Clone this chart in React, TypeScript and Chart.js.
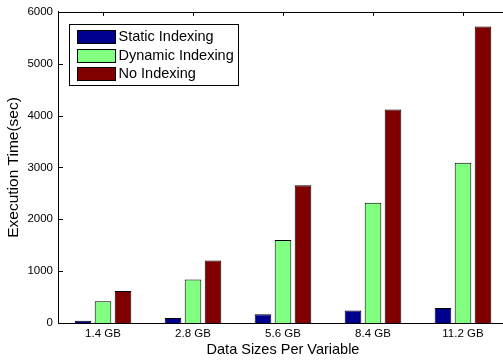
import React, { useEffect, useRef } from 'react';
import { Chart, registerables } from 'chart.js';

Chart.register(...registerables);

const categories = ['1.4 GB', '2.8 GB', '5.6 GB', '8.4 GB', '11.2 GB'];
const staticIndexing = [45, 95, 170, 240, 290];
const dynamicIndexing = [420, 840, 1600, 2320, 3090];
const noIndexing = [615, 1205, 2655, 4120, 5720];
const seriesNames = ['Static Indexing', 'Dynamic Indexing', 'No Indexing'];
const seriesColors = ['#00008F', '#80FF80', '#800000'];
const yMin = 0;
const yMax = 6000;
const yStep = 1000;
const xTitle = 'Data Sizes Per Variable';
const yTitle = 'Execution Time(sec)';

const FONT = '"Liberation Sans", Arial, Helvetica, sans-serif';

const axesDecor = {
  id: 'axesDecor',
  beforeDatasetsDraw(chart: any) {
    const { ctx, chartArea, scales } = chart;
    const x = scales.x;
    const y = scales.y;
    ctx.save();
    ctx.strokeStyle = '#000';
    ctx.lineWidth = 1;
    ctx.beginPath();
    ctx.moveTo(chartArea.left, Math.round(chartArea.top) + 0.5);
    ctx.lineTo(chartArea.right, Math.round(chartArea.top) + 0.5);
    for (let v = yMin; v <= yMax; v += yStep) {
      const py = Math.round(y.getPixelForValue(v)) + 0.5;
      ctx.moveTo(chartArea.left, py);
      ctx.lineTo(chartArea.left + 5, py);
    }
    categories.forEach((_, i) => {
      const px = Math.round(x.getPixelForValue(i)) + 0.5;
      ctx.moveTo(px, chartArea.top);
      ctx.lineTo(px, chartArea.top + 4);
      ctx.moveTo(px, chartArea.bottom);
      ctx.lineTo(px, chartArea.bottom - 4);
    });
    ctx.stroke();
    ctx.restore();
  },
};

const boxLegend = {
  id: 'boxLegend',
  afterDraw(chart: any) {
    const { ctx, chartArea } = chart;
    const x0 = Math.round(chartArea.left + 11) + 0.5;
    const y0 = Math.round(chartArea.top + 12) + 0.5;
    const w = 169;
    const h = 61;
    ctx.save();
    ctx.fillStyle = '#fff';
    ctx.fillRect(x0, y0, w, h);
    ctx.strokeStyle = '#000';
    ctx.lineWidth = 1;
    ctx.strokeRect(x0, y0, w, h);
    ctx.font = `14.5px ${FONT}`;
    ctx.textBaseline = 'middle';
    ctx.textAlign = 'left';
    chart.data.datasets.forEach((ds: any, i: number) => {
      const cy = y0 + 12 + i * 18.6;
      const sy = Math.round(cy - 6.5) + 0.5;
      ctx.fillStyle = ds.backgroundColor;
      ctx.fillRect(x0 + 8, sy, 38, 13);
      ctx.strokeRect(x0 + 8, sy, 38, 13);
      ctx.fillStyle = '#000';
      ctx.fillText(ds.label, x0 + 49, cy + 0.5);
    });
    ctx.restore();
  },
};

export default function App() {
  const ref = useRef<HTMLCanvasElement | null>(null);

  useEffect(() => {
    if (!ref.current) return;
    const series = [staticIndexing, dynamicIndexing, noIndexing];
    const chart = new Chart(ref.current, {
      type: 'bar',
      data: {
        labels: categories,
        datasets: series.map((d, i) => ({
          label: seriesNames[i],
          data: d,
          backgroundColor: seriesColors[i],
          borderColor: '#000',
          borderWidth: 1,
          categoryPercentage: 0.667,
          barPercentage: 0.83,
        })),
      },
      options: {
        animation: false,
        responsive: true,
        maintainAspectRatio: false,
        devicePixelRatio: 1,
        layout: { padding: { top: 8, left: 0, right: 0, bottom: 0 } },
        plugins: {
          legend: { display: false },
          tooltip: { enabled: false },
        },
        scales: {
          x: {
            grid: { display: false, drawTicks: false },
            border: { display: true, color: '#000', width: 1 },
            ticks: {
              color: '#000',
              font: { family: FONT, size: 11.5 },
              padding: 4,
              maxRotation: 0,
            },
            title: {
              display: true,
              text: xTitle,
              color: '#000',
              font: { family: FONT, size: 14.5 },
              padding: { top: 0, bottom: 3 },
            },
            afterFit: (s: any) => {
              s.height = 39;
            },
          },
          y: {
            min: yMin,
            max: yMax,
            grid: { display: false, drawTicks: false },
            border: { display: true, color: '#000', width: 1 },
            ticks: {
              stepSize: yStep,
              color: '#000',
              font: { family: FONT, size: 11.5 },
              padding: 5,
              callback: (v: any) => String(v),
            },
            title: {
              display: true,
              text: yTitle,
              color: '#000',
              font: { family: FONT, size: 15.5 },
              padding: { top: 4, bottom: 0 },
            },
            afterFit: (s: any) => {
              s.width = 58;
            },
          },
        },
      },
      plugins: [axesDecor, boxLegend],
    });
    return () => chart.destroy();
  }, []);

  return (
    <div
      style={{
        position: 'fixed',
        left: 0,
        top: 0,
        width: 503,
        height: 362,
        overflow: 'hidden',
        background: '#fff',
      }}
    >
      <div style={{ position: 'relative', width: 508, height: 362 }}>
        <canvas ref={ref} />
      </div>
    </div>
  );
}
